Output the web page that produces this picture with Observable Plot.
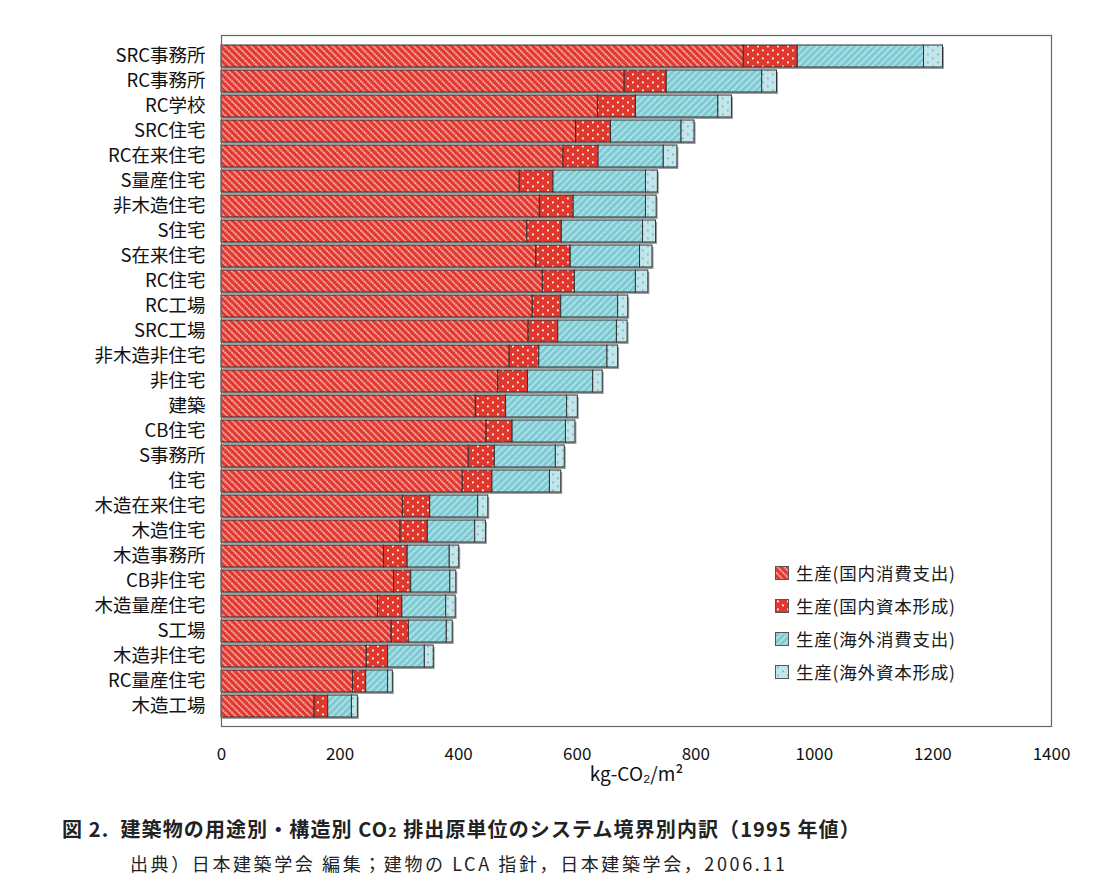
<!DOCTYPE html>
<html>
<head>
<meta charset="utf-8">
<script src="https://cdn.jsdelivr.net/npm/d3@7"></script>
<script src="https://cdn.jsdelivr.net/npm/@observablehq/plot@0.6"></script>
<style>
  html, body { margin: 0; padding: 0; background: #fff; }
  #wrap { position: relative; width: 1102px; height: 894px; font-family: "Noto Sans CJK JP", sans-serif; }
  #legend { position: absolute; left: 775px; top: 556px; }
  .lrow { display: flex; align-items: center; height: 33px; font-size: 17.5px; color: #1a1a1a; letter-spacing: 0.8px; }
  .lrow svg { margin-right: 7px; }
  #cap1 { position: absolute; left: 62px; top: 814px; font-size: 20px; font-weight: 700; color: #222; letter-spacing: 1.1px; white-space: nowrap; }
  #cap2 { position: absolute; left: 130px; top: 850px; font-size: 18px; color: #222; letter-spacing: 2.6px; white-space: nowrap; }
</style>
</head>
<body>
<div id="wrap">
  <div id="chart"></div>
  <div id="legend"></div>
  <div id="cap1">図 2.&nbsp;&nbsp;建築物の用途別・構造別 CO<span style="font-size:14px">2</span> 排出原単位のシステム境界別内訳（1995 年値）</div>
  <div id="cap2">出典）日本建築学会 編集；建物の LCA 指針，日本建築学会，2006.11</div>
</div>
<script>
const categories = ["SRC事務所","RC事務所","RC学校","SRC住宅","RC在来住宅","S量産住宅","非木造住宅","S住宅","S在来住宅","RC住宅","RC工場","SRC工場","非木造非住宅","非住宅","建築","CB住宅","S事務所","住宅","木造在来住宅","木造住宅","木造事務所","CB非住宅","木造量産住宅","S工場","木造非住宅","RC量産住宅","木造工場"];
const domesticConsumption = [881,680,635,598,577,503,537,516,531,542,525,518,486,467,429,447,417,407,306,302,274,291,264,287,245,222,157];
const domesticCapital     = [91,71,64,59,59,57,57,58,58,54,48,50,50,50,51,44,44,50,46,46,40,29,41,29,36,22,23];
const overseasConsumption = [213,161,139,119,110,156,122,137,117,103,96,99,115,110,103,90,103,97,81,80,71,66,74,64,62,37,40];
const overseasCapital     = [32,25,23,22,23,20,18,22,21,21,17,18,18,16,18,16,15,19,17,18,16,10,16,10,15,8,10];
const seriesNames = ["生産(国内消費支出)","生産(国内資本形成)","生産(海外消費支出)","生産(海外資本形成)"];
const xTicks = [0,200,400,600,800,1000,1200,1400];
const xLabel = "kg-CO₂/m²";

const seriesValues = [domesticConsumption, domesticCapital, overseasConsumption, overseasCapital];
const patternIds = ["url(#p1)","url(#p2)","url(#p3)","url(#p4)"];
const data = categories.flatMap((c, i) => seriesNames.map((s, j) => ({category: c, series: s, value: seriesValues[j][i]})));
const totals = categories.map((c, i) => ({category: c, total: seriesValues.reduce((a, v) => a + v[i], 0)}));

const chart = Plot.plot({
  width: 1102,
  height: 795,
  marginLeft: 221,
  marginRight: 51,
  marginTop: 35,
  marginBottom: 69,
  style: {fontFamily: "'Noto Sans CJK JP', sans-serif", background: "transparent", color: "#1a1a1a"},
  x: {domain: [0, 1400]},
  y: {domain: categories, paddingInner: 0.14, paddingOuter: 0.05},
  color: {domain: seriesNames, range: patternIds},
  marks: [
    Plot.barX(totals, {x: "total", y: "category", fill: "#a0a0a0", dx: 1.5, dy: 2}),
    Plot.barX(data, {x: "value", y: "category", fill: "series", stroke: "#333", strokeWidth: 1}),
    Plot.frame({stroke: "#666", strokeWidth: 1.2}),
    Plot.axisY({tickSize: 0, tickPadding: 16, fontSize: 18.5, label: null, fill: "#111"}),
    Plot.axisX({ticks: xTicks, tickFormat: d3.format("d"), tickSize: 0, tickPadding: 21, fontSize: 17, fill: "#111", label: null}),
    Plot.text([xLabel], {frameAnchor: "bottom", dy: 54, fontSize: 19, fill: "#111"})
  ]
});

const defs = `
<defs>
  <pattern id="p1" width="4.8" height="4.8" patternUnits="userSpaceOnUse" patternTransform="rotate(-45)">
    <rect width="4.8" height="4.8" fill="#e1372d"/>
    <line x1="1" y1="0" x2="1" y2="4.8" stroke="#fff" stroke-width="1.5" stroke-dasharray="1.6 0.8" opacity="0.8"/>
  </pattern>
  <pattern id="p2" width="10" height="8" patternUnits="userSpaceOnUse">
    <rect width="10" height="8" fill="#e1372d"/>
    <rect x="2" y="1.5" width="1.8" height="1.8" fill="#fff"/>
    <rect x="7" y="5.5" width="1.8" height="1.8" fill="#fff"/>
  </pattern>
  <pattern id="p3" width="4.8" height="4.8" patternUnits="userSpaceOnUse" patternTransform="rotate(45)">
    <rect width="4.8" height="4.8" fill="#7ccad3"/>
    <line x1="1" y1="0" x2="1" y2="4.8" stroke="#fff" stroke-width="1.4" stroke-dasharray="1.6 0.8" opacity="0.75"/>
  </pattern>
  <pattern id="p4" width="10" height="8" patternUnits="userSpaceOnUse">
    <rect width="10" height="8" fill="#c4e6ea"/>
    <rect x="2" y="1.5" width="1.8" height="1.8" fill="#6fbfc8"/>
    <rect x="7" y="5.5" width="1.8" height="1.8" fill="#6fbfc8"/>
  </pattern>
</defs>`;
chart.insertAdjacentHTML("afterbegin", defs);
document.getElementById("chart").appendChild(chart);

const legend = document.getElementById("legend");
seriesNames.forEach((s, j) => {
  const row = document.createElement("div");
  row.className = "lrow";
  row.innerHTML = `<svg width="14" height="14"><rect x="0.5" y="0.5" width="13" height="13" fill="${patternIds[j]}" stroke="#555"/></svg><span>${s}</span>`;
  legend.appendChild(row);
});
</script>
</body>
</html>
